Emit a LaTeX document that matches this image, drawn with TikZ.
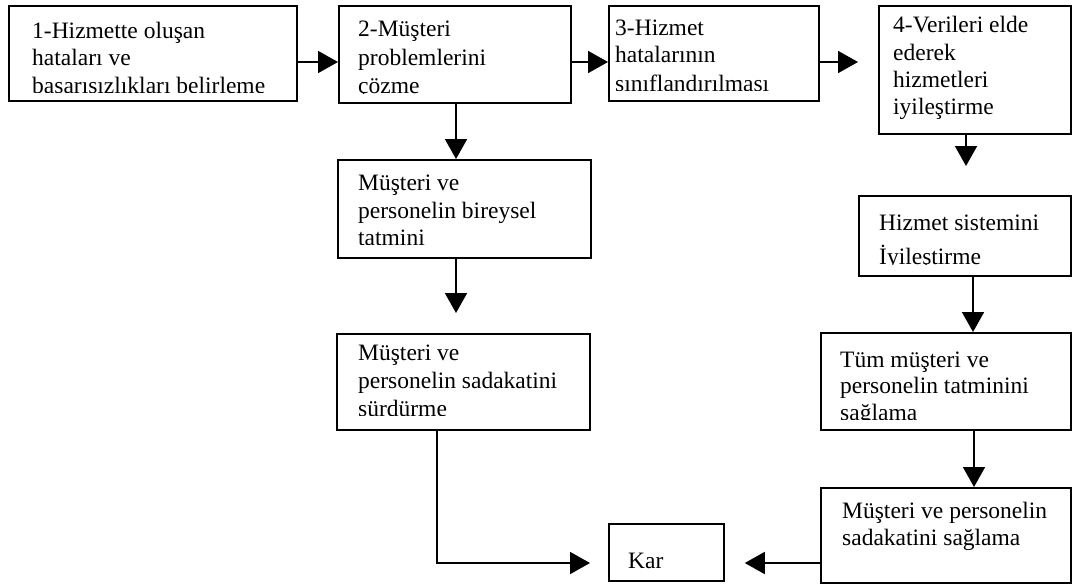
\documentclass[tikz,border=0pt]{standalone}
\usepackage{fontspec}
\setmainfont{Liberation Serif}
\usetikzlibrary{arrows.meta}

\begin{document}
\begin{tikzpicture}[x=1pt, y={(0pt,-1pt)},
  box/.style={draw, line width=1.8pt, inner sep=0pt, anchor=north west},
  txt/.style={inner sep=0pt, anchor=base west, font=\fontsize{23.5}{27}\selectfont},
  arr/.style={line width=1.8pt, -{Triangle[length=20pt, width=22pt]}}]

\useasboundingbox[fill=white] (0,0) rectangle (1083,586);

% boxes
\node[box, minimum width=288pt, minimum height=95pt]  (b1)  at (8,5)     {};
\node[box, minimum width=232pt, minimum height=97pt]  (b2)  at (338,5)   {};
\node[box, minimum width=210pt, minimum height=95pt]  (b3)  at (608,5)   {};
\node[box, minimum width=192pt, minimum height=128pt] (b4)  at (878,5)   {};
\node[box, minimum width=253pt, minimum height=98pt]  (b5)  at (337,159) {};
\node[box, minimum width=253pt, minimum height=96pt]  (b6)  at (336,333) {};
\node[box, minimum width=212pt, minimum height=80pt]  (b7)  at (858,195) {};
\node[box, minimum width=250pt, minimum height=97pt]  (b8)  at (820,332) {};
\node[box, minimum width=250pt, minimum height=95pt]  (b9)  at (820,487) {};
\node[box, minimum width=115pt, minimum height=57pt]  (kar) at (608,523) {};

% box texts, each cut off at the lower margin of its box
\begin{scope}
  \clip (9,6) rectangle (295,92);
  \node[txt] (t1a) at (32,38) {1-Hizmette oluşan};
  \node[txt] (t1b) at (32,65) {hataları ve};
  \node[txt] (t1c) at (32,93) {başarısızlıkları belirleme};
\end{scope}
\begin{scope}
  \clip (339,6) rectangle (569,93);
  \node[txt] (t2a) at (358,37) {2-Müşteri};
  \node[txt] (t2b) at (358,65) {problemlerini};
  \node[txt] (t2c) at (358,93) {çözme};
\end{scope}
\begin{scope}
  \clip (609,6) rectangle (817,90);
  \node[txt] (t3a) at (615,36) {3-Hizmet};
  \node[txt] (t3b) at (615,63) {hatalarının};
  \node[txt] (t3c) at (615,91) {sınıflandırılması};
\end{scope}
\node[txt] (t4a) at (893,33)  {4-Verileri elde};
\node[txt] (t4b) at (893,60)  {ederek};
\node[txt] (t4c) at (893,87)  {hizmetleri};
\node[txt] (t4d) at (893,114) {iyileştirme};
\begin{scope}
  \clip (338,160) rectangle (589,244);
  \node[txt] (t5a) at (358,190) {Müşteri ve};
  \node[txt] (t5b) at (358,218) {personelin bireysel};
  \node[txt] (t5c) at (358,245) {tatmini};
\end{scope}
\begin{scope}
  \clip (337,334) rectangle (588,415);
  \node[txt] (t6a) at (358,360) {Müşteri ve};
  \node[txt] (t6b) at (358,388) {personelin sadakatini};
  \node[txt] (t6c) at (358,416) {sürdürme};
\end{scope}
\begin{scope}
  \clip (859,196) rectangle (1069,264);
  \node[txt] (t7a) at (879,230) {Hizmet sistemini};
  \node[txt] (t7b) at (879,264) {İyileştirme};
\end{scope}
\begin{scope}
  \clip (821,333) rectangle (1069,419);
  \node[txt] (t8a) at (840,367) {Tüm müşteri ve};
  \node[txt] (t8b) at (840,393) {personelin tatminini};
  \node[txt] (t8c) at (840,420) {sağlama};
\end{scope}
\node[txt] (t9a) at (842,518) {Müşteri ve personelin};
\node[txt] (t9b) at (842,545) {sadakatini sağlama};
\node[txt] (tk)  at (628,568) {Kar};

% routing guides for the connectors
\coordinate (row)  at (0,62);
\coordinate (low)  at (0,563);
\coordinate (c25)  at (456,0);
\coordinate (c6)   at (437,0);
\coordinate (c47)  at (966,0);
\coordinate (c78)  at (973,0);
\coordinate (c89)  at (974,0);

% connectors
\draw[arr] (b1.east |- row) -- (b2.west |- row);
\draw[arr] (b2.east |- row) -- (b3.west |- row);
\draw[arr, shorten >=20pt] (b3.east |- row) -- (b4.west |- row);
\draw[arr] (b2.south -| c25) -- (b5.north -| c25);
\draw[arr, shorten >=20pt] (b5.south -| c25) -- (b6.north -| c25);
\draw[arr, shorten >=18pt] (b6.south -| c6) |- (kar.west |- low);
\draw[arr, shorten >=29pt] (b4.south -| c47) -- (b7.north -| c47);
\draw[arr] (b7.south -| c78) -- (b8.north -| c78);
\draw[arr] (b8.south -| c89) -- (b9.north -| c89);
\draw[arr, shorten >=20pt] (b9.west |- low) -- (kar.east |- low);

\end{tikzpicture}
\end{document}
